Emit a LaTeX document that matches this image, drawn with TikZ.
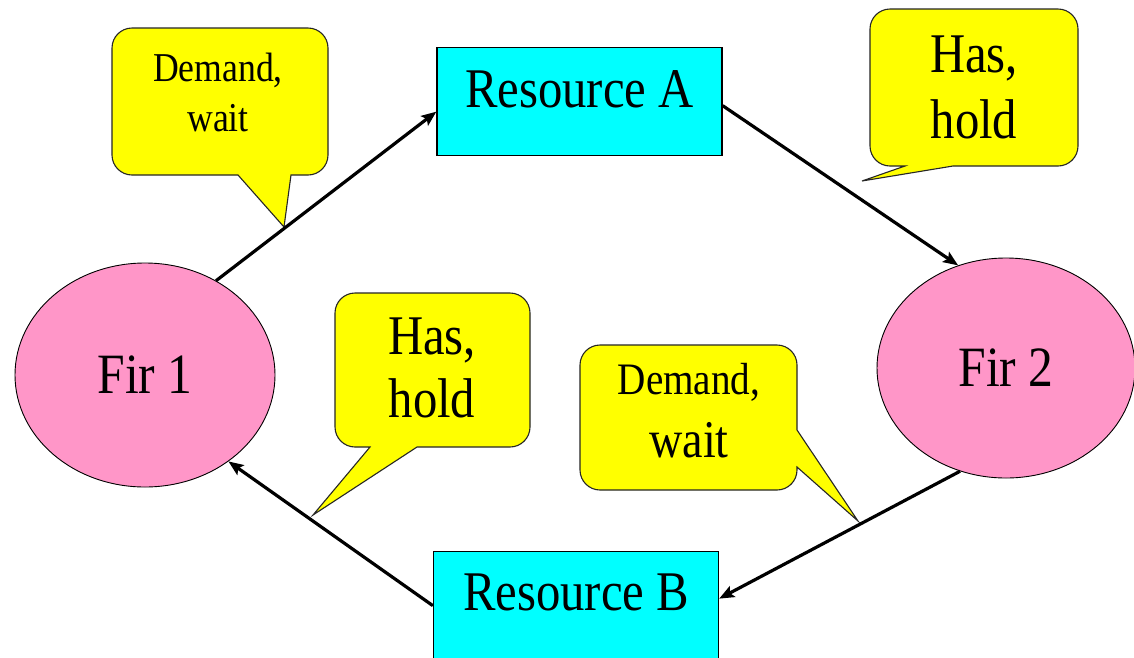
\documentclass[tikz,border=0pt]{standalone}
\usepackage{fontspec}
\setmainfont{Liberation Serif}[FakeStretch=0.87]
\usetikzlibrary{arrows.meta,shapes.geometric}
\definecolor{pinkfill}{HTML}{FF96C8}
\definecolor{cyanfill}{HTML}{00FFFF}
\definecolor{noteyellow}{HTML}{FFFF00}

\begin{document}
\begin{tikzpicture}[x=1pt,y=-1pt,
  res/.style={draw=black, line width=1.3pt, fill=cyanfill, minimum width=285pt,
    inner sep=0pt, anchor=north, font=\fontsize{56}{60}\selectfont},
  fir/.style={ellipse, draw=black, line width=0.9pt, fill=pinkfill, inner sep=0pt,
    font=\fontsize{57}{60}\selectfont},
  note/.style={draw=black!85, line width=1.1pt, fill=noteyellow},
  notetext/.style={align=center, inner sep=0pt},
  flow/.style={line width=3.2pt, -{Stealth[length=15pt,width=12pt,inset=3pt]}}
]
\useasboundingbox (0,0) rectangle (1134,657);
\clip (0,0) rectangle (1134,657);
\fill[white] (0,0) rectangle (1134,657);

% resources and processes
\node[res, text height=60pt, text depth=48pt] (ra) at (579.5,47) {Resource A};
\node[res, text height=59pt, text depth=49pt] (rb) at (576,551) {Resource B};
\node[fir, minimum width=260pt, minimum height=224pt] (f1) at (145,375) {Fir 1};
\node[fir, minimum width=258pt, minimum height=220pt] (f2) at (1006,368) {Fir 2};

% speech bubbles
\draw[note] (132,28) -- (308,28) .. controls (319,28) and (328,37) .. (328,48)
  -- (328,155) .. controls (328,166) and (319,175) .. (308,175)
  -- (291,175) -- (284,227) -- (238,175)
  -- (132,175) .. controls (121,175) and (112,166) .. (112,155)
  -- (112,48) .. controls (112,37) and (121,28) .. (132,28) -- cycle;
\node[notetext, font=\fontsize{41}{50}\selectfont] (n1) at (218,92) {Demand,\\wait};

\draw[note] (890,9) -- (1058,9) .. controls (1069,9) and (1078,18) .. (1078,29)
  -- (1078,146) .. controls (1078,157) and (1069,166) .. (1058,166)
  -- (953,166) -- (862,181) -- (905,166)
  -- (890,166) .. controls (879,166) and (870,157) .. (870,146)
  -- (870,29) .. controls (870,18) and (879,9) .. (890,9) -- cycle;
\node[notetext, font=\fontsize{56}{66}\selectfont] (n2) at (974,87) {Has,\\hold};

\draw[note] (355,293) -- (510,293) .. controls (521,293) and (530,302) .. (530,313)
  -- (530,427) .. controls (530,438) and (521,447) .. (510,447)
  -- (417,447) -- (313,515) -- (370,447)
  -- (355,447) .. controls (344,447) and (335,438) .. (335,427)
  -- (335,313) .. controls (335,302) and (344,293) .. (355,293) -- cycle;
\node[notetext, font=\fontsize{56}{63}\selectfont] (n3) at (432,368) {Has,\\hold};

\draw[note] (600,345) -- (777,345) .. controls (788,345) and (797,354) .. (797,365)
  -- (797,430) -- (858,521) -- (797,467)
  -- (797,470) .. controls (797,481) and (788,490) .. (777,490)
  -- (600,490) .. controls (589,490) and (580,481) .. (580,470)
  -- (580,365) .. controls (580,354) and (589,345) .. (600,345) -- cycle;
\node[notetext, font=\fontsize{45}{63}\selectfont] (n4) at (689,411)
  {Demand,\\{\fontsize{53}{63}\selectfont wait}};

% request / assignment edges
\draw[flow] (f1.53.8) -- ([yshift=-10pt]ra.west);
\draw[flow] ([yshift=-4pt]ra.east) -- (f2.115);
\draw[flow] (f2.246) -- ([yshift=7pt]rb.east);
\draw[flow] (rb.west) -- (f1.-46.7);
\end{tikzpicture}
\end{document}
